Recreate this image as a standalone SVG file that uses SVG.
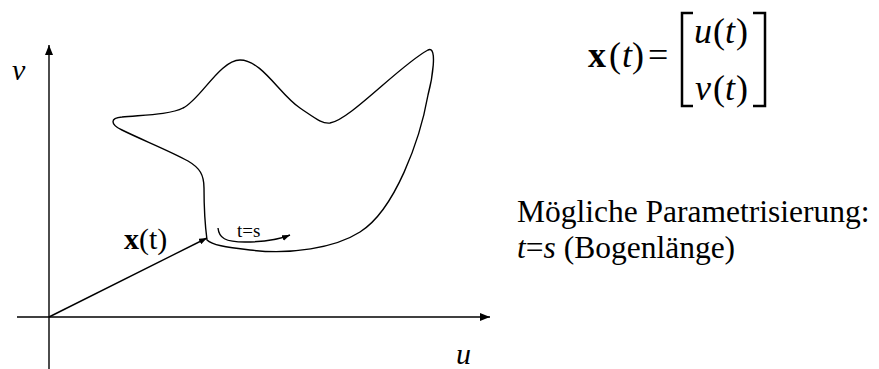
<svg xmlns="http://www.w3.org/2000/svg" width="879" height="369" viewBox="0 0 879 369">
<style>
.ln{fill:none;stroke:#000;stroke-width:1.4}
text{font-family:'Liberation Serif',Tinos,'Times New Roman',Times,'DejaVu Serif','Noto Serif',serif;fill:#000}
.it{font-style:italic}
.bd{font-weight:bold}
</style>
<defs>
<marker id="ah" markerUnits="userSpaceOnUse" markerWidth="10" markerHeight="8" refX="10" refY="4" orient="auto">
<path d="M0,0 L10,4 L0,8 z" fill="#000"/>
</marker>
<marker id="ahs" markerUnits="userSpaceOnUse" markerWidth="8" markerHeight="6" refX="8" refY="3" orient="auto">
<path d="M0,0 L8,3 L0,6 z" fill="#000"/>
</marker>
</defs>
<rect width="879" height="369" fill="#fff"/>
<g id="connectors">
<line class="ln" x1="49" y1="369" x2="49" y2="45" marker-end="url(#ah)"/>
<line class="ln" x1="17" y1="317" x2="490" y2="317" marker-end="url(#ah)"/>
<line class="ln" x1="49" y1="317" x2="207" y2="238" stroke-width="1.2" marker-end="url(#ahs)"/>
<path class="ln" stroke-width="1.1" d="M218,228 C219,238 225,242 245,242 C265,242 278,240 290,235" marker-end="url(#ahs)"/>
</g>
<g id="curve">
<path class="ln" stroke-width="1.3" d="M207,240 C205,225 204,200 204,188 C204,175 200,168 188,161 C170,151 140,139 122,130 C110,124 110,118 122,117 C140,115 170,115 183,108 C200,100 220,60 240,60 C262,60 280,95 300,108 C315,118 322,124 330,123 C350,120 400,65 428,50 C438,45 432,80 428,95 C420,140 395,210 360,232 C335,248 290,255 250,250 C225,247 212,245 207,240 Z"/>
</g>
<g id="labels">
<text class="it" x="12" y="80" font-size="30">v</text>
<text class="it" x="456" y="364" font-size="30">u</text>
<text x="124" y="249" font-size="30"><tspan class="bd">x</tspan>(t)</text>
<text x="237" y="237" font-size="19">t=s</text>
</g>
<g id="formula">
<text y="67" font-size="36"><tspan class="bd" x="588">x</tspan><tspan x="609">(</tspan><tspan class="it" x="622">t</tspan><tspan x="632">)</tspan><tspan x="648">=</tspan></text>
<text y="43" font-size="36"><tspan class="it" x="694">u</tspan><tspan x="713">(</tspan><tspan class="it" x="725">t</tspan><tspan x="736">)</tspan></text>
<text y="100" font-size="36"><tspan class="it" x="695">v</tspan><tspan x="713">(</tspan><tspan class="it" x="725">t</tspan><tspan x="736">)</tspan></text>
<path d="M693,13 L682,13 L682,106 L693,106" fill="none" stroke="#000" stroke-width="2.5"/>
<path d="M753,13 L765,13 L765,106 L753,106" fill="none" stroke="#000" stroke-width="2.5"/>
</g>
<g id="description">
<text x="517" y="222" font-size="31.5">Mögliche Parametrisierung:</text>
<text x="517" y="258" font-size="31.5"><tspan class="it">t</tspan>=<tspan class="it">s</tspan> (Bogenlänge)</text>
</g>
</svg>
